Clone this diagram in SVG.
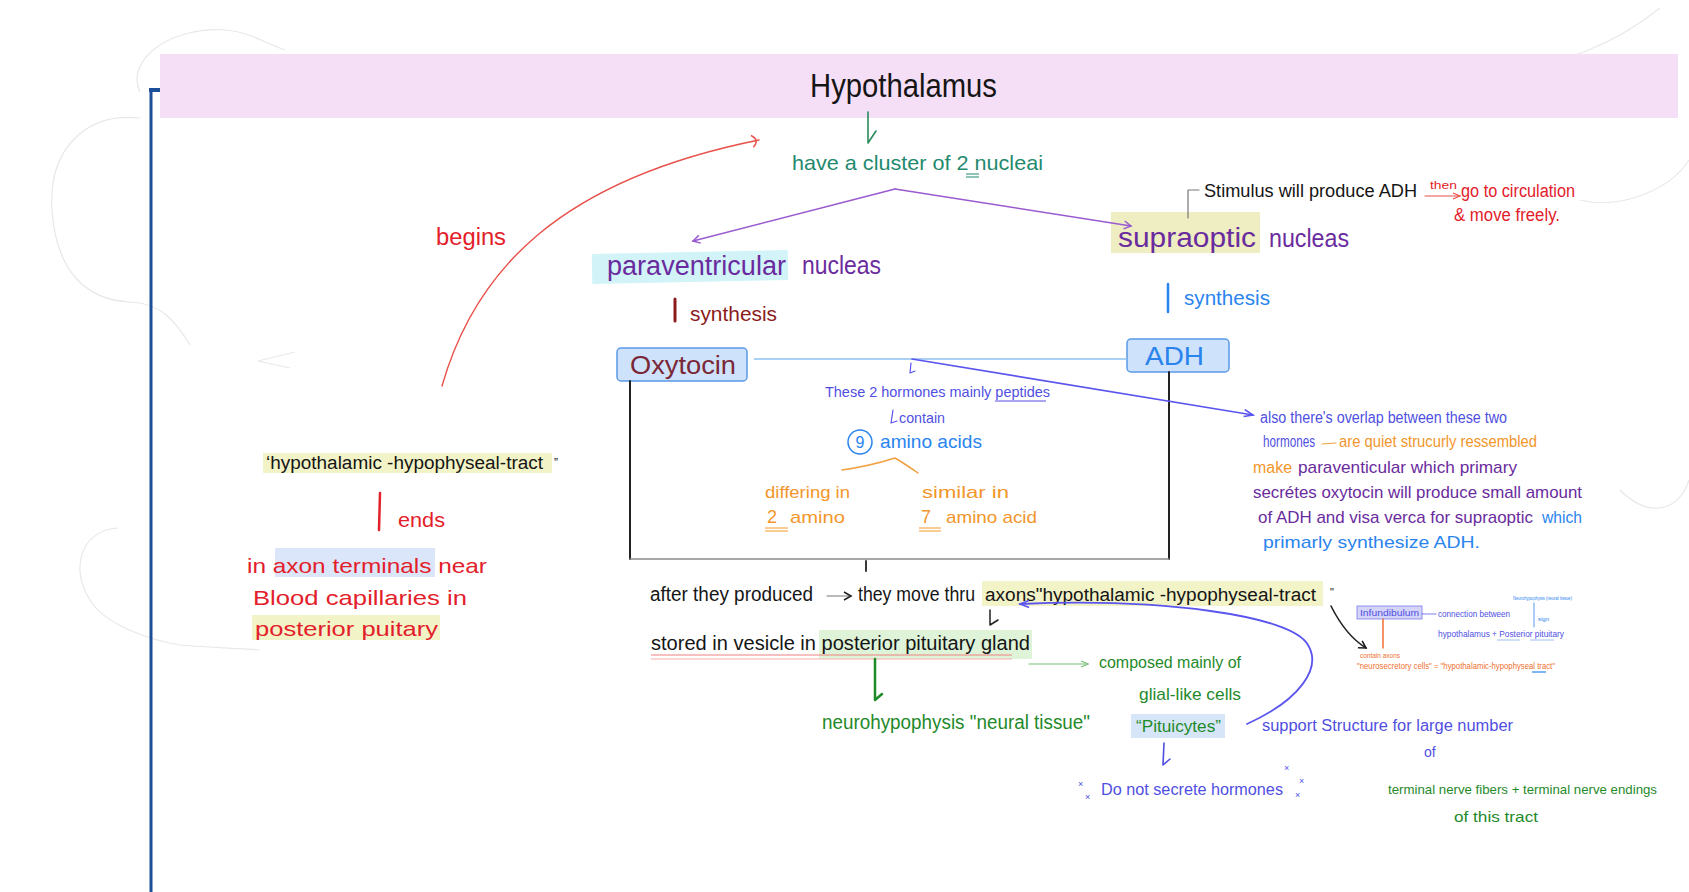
<svg xmlns="http://www.w3.org/2000/svg" width="1689" height="892" viewBox="0 0 1689 892">
<defs>
<style>
text{font-family:"Liberation Sans Narrow","Liberation Sans",Arial,sans-serif;}
.blk{fill:#151515}.red{fill:#e3202a}.dred{fill:#8b1c1c}.pur{fill:#6a2b9e}.vio{fill:#4f4fe2}.blu{fill:#2a84ee}.org{fill:#f2962b}.grn{fill:#1f8a2a}.teal{fill:#1f8a6e}.oxy{fill:#7a2838}
.cloud{fill:none;stroke:#e8e8e8;stroke-width:1.2}
.ln{fill:none;stroke-linecap:round;stroke-linejoin:round}
</style>
<marker id="ah-pur" markerWidth="10" markerHeight="10" refX="8" refY="5" orient="auto" markerUnits="userSpaceOnUse"><path d="M1,1 L8,5 L1,9" fill="none" stroke="#9a5ad0" stroke-width="1.5"/></marker>
<marker id="ah-red" markerWidth="12" markerHeight="14" refX="9" refY="7" orient="auto" markerUnits="userSpaceOnUse"><path d="M2,1 Q10,7 2,13" fill="none" stroke="#e8504a" stroke-width="1.5"/></marker>
<marker id="ah-vio" markerWidth="12" markerHeight="10" refX="10" refY="5" orient="auto" markerUnits="userSpaceOnUse"><path d="M1,1 L10,5 L1,8" fill="none" stroke="#5a55ee" stroke-width="1.6"/></marker>
<marker id="ah-blk" markerWidth="10" markerHeight="10" refX="8" refY="5" orient="auto" markerUnits="userSpaceOnUse"><path d="M1,1 L8,5 L1,9" fill="none" stroke="#222" stroke-width="1.6"/></marker>
<marker id="ah-lg" markerWidth="10" markerHeight="10" refX="8" refY="5" orient="auto" markerUnits="userSpaceOnUse"><path d="M1,2 L8,5 L1,8" fill="none" stroke="#7cc07c" stroke-width="1.2"/></marker>
<marker id="ah-rd2" markerWidth="10" markerHeight="10" refX="8" refY="5" orient="auto" markerUnits="userSpaceOnUse"><path d="M1,2 L8,5 L1,8" fill="none" stroke="#e8504a" stroke-width="1.2"/></marker>
</defs>

<rect width="1689" height="892" fill="#ffffff"/>

<g id="background">
<path class="cloud" d="M140,92 C125,60 170,26 226,30 C250,32 262,42 285,50"/>
<path class="cloud" d="M140,118 C85,112 48,150 52,210 C56,270 85,300 130,302 C160,303 175,320 190,345"/>
<path class="cloud" d="M295,352 L258,361 L290,368"/>
<path class="cloud" d="M118,528 C80,530 70,570 90,600 C105,625 150,640 180,645 C210,648 240,648 260,650"/>
<path class="cloud" d="M1330,80 C1380,70 1440,60 1500,66 C1560,70 1620,40 1660,8"/>
<path class="cloud" d="M1580,200 C1620,210 1670,190 1689,160"/>
<path class="cloud" d="M1620,490 C1650,520 1680,510 1689,480"/>
</g>

<g id="band">
<rect x="160" y="54" width="1518" height="64" fill="#f5dff6"/>
<line x1="151" y1="90" x2="151" y2="892" stroke="#1c4f9a" stroke-width="3"/>
<rect x="149" y="88" width="11" height="4" fill="#1c4f9a"/>
</g>

<g id="hypothalamus">
<text x="810" y="97" class="blk" font-size="34" textLength="187" lengthAdjust="spacingAndGlyphs">Hypothalamus</text>
</g>

<g id="cluster">
<text x="792" y="170" class="teal" font-size="21" textLength="251" lengthAdjust="spacingAndGlyphs">have a cluster of 2 nucleai</text>
<path d="M966,174 L979,174 M966,177 L979,177" stroke="#1f8a6e" stroke-width="1"/>
</g>

<g id="supraoptic">
<rect x="1111" y="212" width="149" height="41" fill="#eeeec2"/>
<text x="1118" y="247" class="pur" font-size="27" textLength="138" lengthAdjust="spacingAndGlyphs">supraoptic</text>
<text x="1269" y="247" class="pur" font-size="25" textLength="80" lengthAdjust="spacingAndGlyphs">nucleas</text>
</g>

<g id="stimulus">
<text x="1204" y="197" class="blk" font-size="18" textLength="213" lengthAdjust="spacingAndGlyphs">Stimulus will produce ADH</text>
<text x="1430" y="189" class="red" font-size="11" textLength="27" lengthAdjust="spacingAndGlyphs">then</text>
<text x="1461" y="197" class="red" font-size="18" textLength="114" lengthAdjust="spacingAndGlyphs">go to circulation</text>
<text x="1454" y="221" class="red" font-size="18" textLength="106" lengthAdjust="spacingAndGlyphs">&amp; move freely.</text>
</g>

<g id="paraventricular">
<rect x="592" y="252" width="196" height="30" fill="#d2f4f8" transform="rotate(-1.2 690 267)"/>
<text x="607" y="275" class="pur" font-size="27" textLength="179" lengthAdjust="spacingAndGlyphs">paraventricular</text>
<text x="802" y="274" class="pur" font-size="25" textLength="79" lengthAdjust="spacingAndGlyphs">nucleas</text>
</g>

<g id="begins">
<text x="436" y="245" class="red" font-size="23" textLength="70" lengthAdjust="spacingAndGlyphs">begins</text>
</g>

<g id="synth-left">
<text x="690" y="321" class="dred" font-size="21" textLength="87" lengthAdjust="spacingAndGlyphs">synthesis</text>
</g>

<g id="synth-right">
<text x="1184" y="305" class="blu" font-size="21" textLength="86" lengthAdjust="spacingAndGlyphs">synthesis</text>
</g>

<g id="oxytocin">
<rect x="617" y="348" width="130" height="33" rx="4" fill="#cfe2fb" stroke="#5a9ae8" stroke-width="1.5"/>
<text x="630" y="374" class="oxy" font-size="25" textLength="106" lengthAdjust="spacingAndGlyphs">Oxytocin</text>
</g>

<g id="adh">
<rect x="1127" y="339" width="102" height="33" rx="4" fill="#cfe2fb" stroke="#5a9ae8" stroke-width="1.5"/>
<text x="1145" y="365" class="blu" font-size="25" textLength="59" lengthAdjust="spacingAndGlyphs">ADH</text>
</g>

<g id="peptides">
<text x="825" y="397" class="vio" font-size="15" textLength="225" lengthAdjust="spacingAndGlyphs">These 2 hormones mainly peptides</text>
<line x1="995" y1="401" x2="1046" y2="401" stroke="#5a4fe6" stroke-width="1"/>
<text x="899" y="423" class="vio" font-size="15" textLength="46" lengthAdjust="spacingAndGlyphs">contain</text>
<circle cx="860" cy="442" r="12" fill="none" stroke="#2a84ee" stroke-width="1.5"/>
<text x="860" y="448" class="blu" font-size="16" text-anchor="middle">9</text>
<text x="880" y="448" class="blu" font-size="19" textLength="102" lengthAdjust="spacingAndGlyphs">amino acids</text>
</g>

<g id="differing">
<text x="765" y="498" class="org" font-size="17" textLength="85" lengthAdjust="spacingAndGlyphs">differing in</text>
<text x="767" y="523" class="org" font-size="18">2</text>
<text x="790" y="523" class="org" font-size="17" textLength="55" lengthAdjust="spacingAndGlyphs">amino</text>
<path d="M765,528 L788,528 M765,531 L788,531" stroke="#f2962b" stroke-width="1"/>
</g>

<g id="similar">
<text x="922" y="498" class="org" font-size="17" textLength="87" lengthAdjust="spacingAndGlyphs">similar in</text>
<text x="921" y="523" class="org" font-size="18">7</text>
<text x="946" y="523" class="org" font-size="17" textLength="91" lengthAdjust="spacingAndGlyphs">amino acid</text>
<path d="M919,528 L941,528 M919,531 L941,531" stroke="#f2962b" stroke-width="1"/>
</g>

<g id="overlap">
<text x="1260" y="423" class="vio" font-size="16" textLength="247" lengthAdjust="spacingAndGlyphs">also there's overlap between these two</text>
<text x="1263" y="447" class="vio" font-size="16" textLength="52" lengthAdjust="spacingAndGlyphs">hormones</text>
<text x="1339" y="447" class="org" font-size="17" textLength="198" lengthAdjust="spacingAndGlyphs">are quiet strucurly ressembled</text>
<text x="1253" y="473" class="org" font-size="16" textLength="39" lengthAdjust="spacingAndGlyphs">make</text>
<text x="1298" y="473" class="pur" font-size="17" textLength="219" lengthAdjust="spacingAndGlyphs">paraventicular which primary</text>
<text x="1253" y="498" class="pur" font-size="17" textLength="329" lengthAdjust="spacingAndGlyphs">secrétes oxytocin will produce small amount</text>
<text x="1258" y="523" class="pur" font-size="17" textLength="275" lengthAdjust="spacingAndGlyphs">of ADH and visa verca for supraoptic</text>
<text x="1542" y="523" class="blu" font-size="17" textLength="40" lengthAdjust="spacingAndGlyphs">which</text>
<text x="1263" y="548" class="blu" font-size="17" textLength="217" lengthAdjust="spacingAndGlyphs">primarly synthesize ADH.</text>
</g>

<g id="tract-left">
<rect x="263" y="453" width="289" height="20" fill="#f3f3c8"/>
<text x="266" y="469" class="blk" font-size="18" textLength="277" lengthAdjust="spacingAndGlyphs">‘hypothalamic -hypophyseal-tract</text>
<text x="554" y="467" class="blk" font-size="12">”</text>
<text x="398" y="527" class="red" font-size="21" textLength="47" lengthAdjust="spacingAndGlyphs">ends</text>
<rect x="275" y="548" width="160" height="29" fill="#dbe6fa"/>
<text x="247" y="573" class="red" font-size="21" textLength="240" lengthAdjust="spacingAndGlyphs">in axon terminals near</text>
<text x="253" y="605" class="red" font-size="21" textLength="214" lengthAdjust="spacingAndGlyphs">Blood capillaries in</text>
<rect x="252" y="615" width="188" height="25" fill="#f3f3c8"/>
<text x="255" y="636" class="red" font-size="21" textLength="183" lengthAdjust="spacingAndGlyphs">posterior puitary</text>
</g>

<g id="after">
<text x="650" y="601" class="blk" font-size="20" textLength="163" lengthAdjust="spacingAndGlyphs">after they produced</text>
<text x="858" y="601" class="blk" font-size="20" textLength="117" lengthAdjust="spacingAndGlyphs">they move thru</text>
<rect x="982" y="581" width="341" height="25" fill="#f3f3c8"/>
<text x="985" y="601" class="blk" font-size="18" textLength="331" lengthAdjust="spacingAndGlyphs">axons"hypothalamic -hypophyseal-tract</text>
<text x="1330" y="596" class="blk" font-size="11">"</text>
</g>

<g id="stored">
<rect x="819" y="630" width="213" height="29" fill="#dff3d8"/>
<path d="M651,655 L1012,655" stroke="#f08080" stroke-width="1"/>
<path d="M651,659 L1012,659" stroke="#f4b0b0" stroke-width="1"/>
<text x="651" y="650" class="blk" font-size="20" textLength="379" lengthAdjust="spacingAndGlyphs">stored in vesicle in posterior pituitary gland</text>
</g>

<g id="neurohypophysis">
<text x="822" y="729" class="grn" font-size="20" textLength="268" lengthAdjust="spacingAndGlyphs">neurohypophysis "neural tissue"</text>
</g>

<g id="composed">
<text x="1099" y="668" class="grn" font-size="16" textLength="142" lengthAdjust="spacingAndGlyphs">composed mainly of</text>
<text x="1139" y="700" class="grn" font-size="17" textLength="102" lengthAdjust="spacingAndGlyphs">glial-like cells</text>
</g>

<g id="pituicytes">
<rect x="1131" y="714" width="94" height="24" fill="#d6e6f8"/>
<text x="1136" y="732" class="grn" font-size="17" textLength="85" lengthAdjust="spacingAndGlyphs">“Pituicytes”</text>
</g>

<g id="no-secrete">
<text x="1078" y="787" class="vio" font-size="9">×</text>
<text x="1085" y="800" class="vio" font-size="9">×</text>
<text x="1101" y="795" class="vio" font-size="16" textLength="182" lengthAdjust="spacingAndGlyphs">Do not secrete hormones</text>
<text x="1284" y="771" class="vio" font-size="9">×</text>
<text x="1299" y="784" class="vio" font-size="9">×</text>
<text x="1295" y="798" class="vio" font-size="9">×</text>
</g>

<g id="support">
<text x="1262" y="731" class="vio" font-size="16" textLength="251" lengthAdjust="spacingAndGlyphs">support Structure for large number</text>
<text x="1424" y="757" class="vio" font-size="14">of</text>
<text x="1388" y="794" class="grn" font-size="13" textLength="269" lengthAdjust="spacingAndGlyphs">terminal nerve fibers + terminal nerve endings</text>
<text x="1454" y="822" class="grn" font-size="15" textLength="84" lengthAdjust="spacingAndGlyphs">of this tract</text>
</g>

<g id="infundibulum">
<rect x="1357" y="606" width="65" height="13" fill="#d4d4f8" stroke="#7a7ae8" stroke-width="0.8"/>
<text x="1360" y="616" class="vio" font-size="9" textLength="59" lengthAdjust="spacingAndGlyphs">Infundibulum</text>
<text x="1438" y="617" class="vio" font-size="9" textLength="72" lengthAdjust="spacingAndGlyphs">connection between</text>
<text x="1513" y="600" class="blu" font-size="6" textLength="59" lengthAdjust="spacingAndGlyphs">Neurohypophysis (neural tissue)</text>
<text x="1538" y="621" class="blu" font-size="6">sign</text>
<text x="1438" y="637" class="vio" font-size="9" textLength="126" lengthAdjust="spacingAndGlyphs">hypothalamus + Posterior pituitary</text>
<path d="M1497,640 L1520,640 M1530,640 L1554,640" stroke="#8ab0f0" stroke-width="0.8"/>
<text x="1360" y="658" fill="#f07030" font-size="8" textLength="40" lengthAdjust="spacingAndGlyphs">contain axons</text>
<text x="1357" y="669" fill="#f07030" font-size="9" textLength="198" lengthAdjust="spacingAndGlyphs">"neurosecretory cells" = "hypothalamic-hypophyseal tract"</text>
<path d="M1532,672 L1546,672" stroke="#2a84ee" stroke-width="1.2"/>
</g>

<g id="connectors">
<path class="ln" d="M868,112 L868,143 L876,131" stroke="#2a8a5a" stroke-width="1.6"/>
<path class="ln" d="M895,189 L693,241" stroke="#9a5ad0" stroke-width="1.6" marker-end="url(#ah-pur)"/>
<path class="ln" d="M895,189 L1131,226" stroke="#9a5ad0" stroke-width="1.6" marker-end="url(#ah-pur)"/>
<path class="ln" d="M442,386 C475,270 560,180 759,140" stroke="#e8504a" stroke-width="1.4" marker-end="url(#ah-red)"/>
<path class="ln" d="M1188,218 L1188,190 L1199,190" stroke="#777" stroke-width="1.2"/>
<path class="ln" d="M1425,196 L1460,196" stroke="#e8504a" stroke-width="1.2" marker-end="url(#ah-rd2)"/>
<path class="ln" d="M675,299 L675,321" stroke="#8b1c1c" stroke-width="3"/>
<path class="ln" d="M1168,284 L1168,312" stroke="#2a84ee" stroke-width="2.5"/>
<path class="ln" d="M380,493 L379,530" stroke="#e3202a" stroke-width="2.5"/>
<line x1="754" y1="359" x2="1127" y2="359" stroke="#8ec0f2" stroke-width="1.5"/>
<path class="ln" d="M630,381 L630,559" stroke="#222" stroke-width="2"/>
<path class="ln" d="M1169,372 L1169,559" stroke="#222" stroke-width="2"/>
<path class="ln" d="M630,559 L1169,559" stroke="#8a8a8a" stroke-width="1.5"/>
<path class="ln" d="M866,561 L866,571" stroke="#222" stroke-width="1.8"/>
<path class="ln" d="M912,359 L1253,415" stroke="#5a55ee" stroke-width="1.6" marker-end="url(#ah-vio)"/>
<path class="ln" d="M911,363 L910,373 L915,371" stroke="#5a55ee" stroke-width="1.2"/>
<path class="ln" d="M893,410 L891,423 L897,421" stroke="#5a4fe6" stroke-width="1.2"/>
<path class="ln" d="M842,470 Q870,466 895,458 Q905,464 918,473" stroke="#f2a040" stroke-width="1.5"/>
<path class="ln" d="M1322,444 L1336,443" stroke="#f2a040" stroke-width="1.2"/>
<path class="ln" d="M827,596 L851,596" stroke="#777" stroke-width="1.2" marker-end="url(#ah-blk)"/>
<path class="ln" d="M990,610 L990,625 L998,620" stroke="#222" stroke-width="1.5"/>
<path class="ln" d="M875,659 L875,700 L882,694" stroke="#1f8a2a" stroke-width="2.5"/>
<path class="ln" d="M1029,664 L1088,664" stroke="#7cc07c" stroke-width="1.2" marker-end="url(#ah-lg)"/>
<path class="ln" d="M1164,743 L1163,765 L1170,759" stroke="#4f4fe2" stroke-width="1.6"/>
<path class="ln" d="M1247,724 C1300,700 1322,668 1308,645 C1292,615 1160,598 1020,604" stroke="#5a55ee" stroke-width="1.8" marker-end="url(#ah-vio)"/>
<path class="ln" d="M1331,606 C1340,624 1350,638 1366,648" stroke="#222" stroke-width="1.6" marker-end="url(#ah-blk)"/>
<path class="ln" d="M1383,619 L1383,648" stroke="#f07030" stroke-width="1.5"/>
<path class="ln" d="M1422,614 L1436,614" stroke="#4f4fe2" stroke-width="0.8" stroke-dasharray="2 1"/>
<path class="ln" d="M1534,603 L1534,627" stroke="#5a9af0" stroke-width="1"/>
</g>
</svg>
